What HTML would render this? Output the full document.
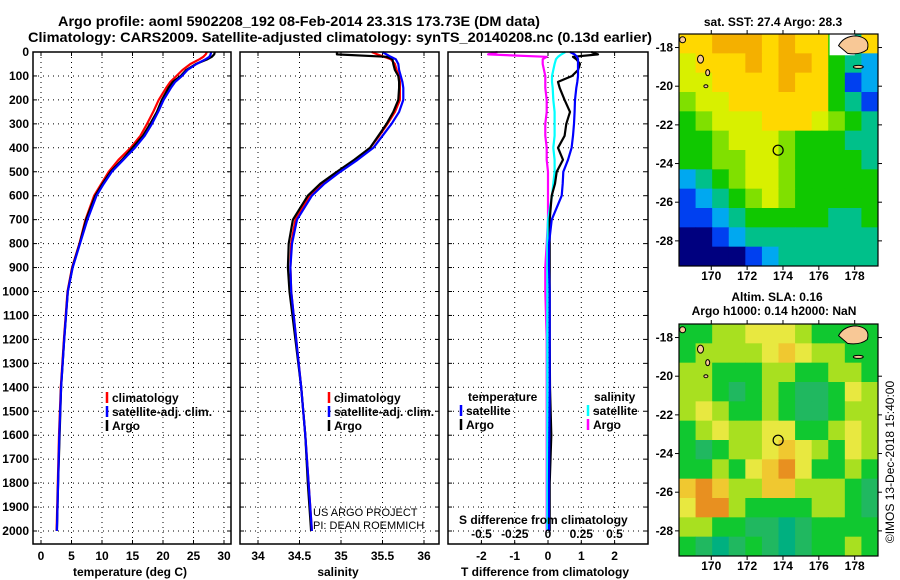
<!DOCTYPE html>
<html><head><meta charset="utf-8"><style>
html,body{margin:0;padding:0;background:#fff;}
svg{display:block;font-family:"Liberation Sans",Arial,sans-serif;}
.b{font-weight:bold;font-size:12px;}
</style></head><body>
<svg id="fig" width="900" height="580" viewBox="0 0 900 580" xmlns="http://www.w3.org/2000/svg">
<rect width="900" height="580" fill="#fff"/>
<text x="58" y="26" class="b" style="font-size:14px" textLength="482" lengthAdjust="spacingAndGlyphs">Argo profile: aoml 5902208_192 08-Feb-2014 23.31S 173.73E (DM data)</text>
<text x="28" y="42" class="b" style="font-size:14px" textLength="624" lengthAdjust="spacingAndGlyphs">Climatology: CARS2009. Satellite-adjusted climatology: synTS_20140208.nc (0.13d earlier)</text>
<g id="plots"></g>
</svg>
<script>
const depths = [0,10,20,30,50,75,100,125,150,200,250,300,350,400,450,500,550,600,700,800,900,1000,1200,1400,1600,1800,2000];
const tempClim = [27.2,27.0,26.6,26.0,24.5,23.2,22.2,21.2,20.5,19.3,18.4,17.4,16.3,14.7,12.7,11.1,9.9,8.7,7.3,6.3,5.1,4.35,3.75,3.25,2.95,2.75,2.55];
const tempSat = [27.9,27.8,27.6,27.0,25.5,24.0,23.1,22.0,21.3,20.1,19.2,18.2,17.0,15.4,13.5,11.6,10.3,9.1,7.6,6.4,5.2,4.4,3.8,3.3,3.0,2.8,2.6];
const tempArgo = [28.5,28.4,28.0,27.3,25.4,23.8,22.9,21.6,20.9,19.8,19.0,17.9,16.7,15.0,13.3,11.4,10.1,8.9,7.4,6.35,5.15,4.4,3.8,3.3,3.05,2.8,2.6];
const salClim = [35.37,35.44,35.52,35.6,35.65,35.67,35.7,35.71,35.71,35.71,35.65,35.56,35.46,35.35,35.17,34.96,34.77,34.62,34.45,34.40,34.39,34.4,34.46,34.52,34.57,34.61,34.65];
const salSat = [35.5,35.55,35.6,35.66,35.69,35.7,35.72,35.74,35.75,35.75,35.7,35.61,35.5,35.39,35.2,34.99,34.8,34.65,34.47,34.41,34.39,34.4,34.46,34.52,34.57,34.61,34.65];
const salArgo = [34.95,34.95,35.55,35.62,35.63,35.65,35.69,35.7,35.7,35.69,35.63,35.55,35.45,35.35,35.16,34.95,34.75,34.6,34.42,34.37,34.36,34.38,34.45,34.52,34.57,34.6,34.64];
const tDiffSat = [0.66,0.8,0.87,0.9,0.9,0.9,0.9,0.88,0.85,0.81,0.8,0.78,0.75,0.71,0.6,0.46,0.44,0.41,0.11,0.03,0.03,0.05,0.05,0.05,0.04,0.03,0.03];
const tDiffArgo = [1.3,1.5,0.75,0.85,0.96,0.9,0.72,0.3,0.35,0.5,0.66,0.55,0.5,0.3,0.45,0.26,0.21,0.11,0.05,0.05,0.05,0.05,0.05,0.06,0.1,0.05,0.05];
const sDiffSat = [0.13,0.1,0.075,0.06,0.05,0.04,0.03,0.03,0.035,0.04,0.05,0.05,0.05,0.04,0.05,0.05,0.04,0.03,0.0,-0.005,-0.005,-0.005,-0.005,-0.005,-0.005,-0.005,-0.005];
const sDiffArgo = [-0.38,-0.45,-0.01,-0.04,-0.04,-0.03,-0.02,-0.02,-0.02,-0.01,-0.01,-0.02,-0.02,-0.01,-0.01,0,0,0,0,-0.01,-0.02,-0.02,-0.01,-0.01,-0.01,-0.01,-0.01];
const depthTicks = [0,100,200,300,400,500,600,700,800,900,1000,1100,1200,1300,1400,1500,1600,1700,1800,1900,2000];
const tempTicks = [0,5,10,15,20,25,30];
const salTicks = [34,34.5,35,35.5,36];
const tDiffTicks = [-2,-1,0,1,2];
const sDiffTicks = [-0.5,-0.25,0,0.25,0.5];
const sstGrid = [
"778887877437","677787887432","667777877412","566777777431","456667776543","445666544433",
"445566544443","234566544444","123456544444","112344444334","001233333333","000012333333"];
const slaGrid = [
"445566654444","455556765544","554445544554","554345433465","565445433455","456556644565",
"434556765465","445467864454","787557755543","688544445543","554433234444","432343234454"];
const sstColors = ["#00007f","#0040f0","#00a8f0","#00c08a","#10c800","#80e000","#d8f000","#ffd800","#f4b000","#d06010"];
const slaColors = ["#00d8c0","#10c8a0","#00b080","#20b860","#10c830","#a8e020","#e8e840","#f0c830","#e89020"];
const mapLon = [168.2,179.3];
const mapLat = [-17.3,-29.3];
const lonTicks = [170,172,174,176,178];
const latTicks = [-18,-20,-22,-24,-26,-28];
const argoPos = [173.73,-23.31];

const NS="http://www.w3.org/2000/svg";
const root=document.getElementById('plots');
function mk(tag,at,parent){const e=document.createElementNS(NS,tag);for(const k in at)e.setAttribute(k,at[k]);(parent||root).appendChild(e);return e;}
function txt(s,x,y,anchor,parent,extra){const e=mk('text',Object.assign({x:x,y:y,'text-anchor':anchor||'start','class':'b'},extra||{}),parent);e.textContent=s;return e;}
const Y=d=>52+d*0.2395;
const yTop=52,yBot=544;
function panel(name,x0,x1,xs,ticks,fmt,yLabels){
  const g=mk('g',{});
  
  
  depthTicks.forEach(d=>{ if(d>0){const l=mk('line',{x1:x0,x2:x1,y1:Y(d),y2:Y(d),stroke:'#000','stroke-width':1,'stroke-dasharray':'1,4'},g);}
    mk('line',{x1:x0,x2:x0+4,y1:Y(d),y2:Y(d),stroke:'#000'},g);mk('line',{x1:x1-4,x2:x1,y1:Y(d),y2:Y(d),stroke:'#000'},g);
    if(yLabels){const t=txt(String(d),29,Y(d)+4,'end',g);}});
  ticks.forEach(v=>{const x=xs(v);
    const l=mk('line',{x1:x,x2:x,y1:yTop,y2:yBot,stroke:'#000','stroke-width':1,'stroke-dasharray':'1,4'},g);
    
    mk('line',{x1:x,x2:x,y1:yBot-4,y2:yBot,stroke:'#000'},g);mk('line',{x1:x,x2:x,y1:yTop,y2:yTop+4,stroke:'#000'},g);
    const t=txt(fmt(v),x,560,'middle',g);});
  return g;
}
function frame(g,x0,x1){const r=mk('rect',{x:x0,y:yTop,width:x1-x0,height:yBot-yTop,fill:'none',stroke:'#000','stroke-width':1.5},g);}
function series(g,name,vals,xs,color){
  const p=mk('polyline',{points:vals.map((v,i)=>xs(v).toFixed(1)+','+Y(depths[i]).toFixed(1)).join(' '),fill:'none',stroke:color,'stroke-width':2.2,'stroke-linejoin':'round'},g);
  
  
}
function legendEntry(g,name,x,y,color,label){
  const e=mk('g',{},g);
  
  
  mk('line',{x1:x,x2:x,y1:y-10,y2:y+1,stroke:color,'stroke-width':2.5},e);
  txt(label,x+5,y,'start',e);
}
const xT=v=>41+6.1*v;
const g1=panel('temperature-panel',33,231,xT,tempTicks,String,true);
series(g1,'temp-climatology-line',tempClim,xT,'#f00');
series(g1,'temp-argo-line',tempArgo,xT,'#000');
series(g1,'temp-satellite-line',tempSat,xT,'#00f');
frame(g1,33,231);
legendEntry(g1,'legend-climatology',107,402,'#f00','climatology');
legendEntry(g1,'legend-satellite-adj',107,416,'#00f','satellite-adj. clim.');
legendEntry(g1,'legend-argo',107,430,'#000','Argo');
let t=txt('temperature (deg C)',130,576,'middle',g1);
const xS=v=>258+83*(v-34);
const g2=panel('salinity-panel',240,439,xS,salTicks,v=>String(v),false);
series(g2,'sal-climatology-line',salClim,xS,'#f00');
series(g2,'sal-argo-line',salArgo,xS,'#000');
series(g2,'sal-satellite-line',salSat,xS,'#00f');
frame(g2,240,439);
legendEntry(g2,'legend-climatology',329,402,'#f00','climatology');
legendEntry(g2,'legend-satellite-adj',329,416,'#00f','satellite-adj. clim.');
legendEntry(g2,'legend-argo',329,430,'#000','Argo');
t=txt('US ARGO PROJECT',313,516,'start',g2,{'class':'',"font-size":"11"});
t=txt('PI: DEAN ROEMMICH',313,529,'start',g2,{'class':'',"font-size":"11"});
t=txt('salinity',338,576,'middle',g2);
const xD=v=>548+33.3*v;
const xSD=v=>548+133*v;
const g3=panel('difference-panel',448,648,xD,tDiffTicks,String,false);
series(g3,'sdiff-argo-line',sDiffArgo,xSD,'#f0f');
series(g3,'sdiff-satellite-line',sDiffSat,xSD,'#0ff');
series(g3,'tdiff-argo-line',tDiffArgo,xD,'#000');
series(g3,'tdiff-satellite-line',tDiffSat,xD,'#00f');
frame(g3,448,648);
t=txt('temperature',468,401,'start',g3);
legendEntry(g3,'legend-t-satellite',461,415,'#00f','satellite');
legendEntry(g3,'legend-t-argo',461,429,'#000','Argo');
t=txt('salinity',594,401,'start',g3);
legendEntry(g3,'legend-s-satellite',588,415,'#0ff','satellite');
legendEntry(g3,'legend-s-argo',588,429,'#f0f','Argo');
t=txt('S difference from climatology',459,524,'start',g3);
sDiffTicks.forEach(v=>{const e=txt(String(v),xSD(v),538,'middle',g3);});
t=txt('T difference from climatology',545,576,'middle',g3);
function drawMap(name,top,grid,colors,whiteCells){
  const g=mk('g',{});
  
  
  const x0=679,x1=878,y0=top,y1=top+232;
  const lx=v=>x0+(v-mapLon[0])/(mapLon[1]-mapLon[0])*(x1-x0);
  const ly=v=>y0+(v-mapLat[0])/(mapLat[1]-mapLat[0])*(y1-y0);
  const rows=grid.length,cols=grid[0].length,cw=(x1-x0)/cols,ch=(y1-y0)/rows;
  grid.forEach((row,r)=>{for(let c=0;c<cols;c++){
    const cell=mk('rect',{x:x0+c*cw,y:y0+r*ch,width:cw+0.5,height:ch+0.5,fill:colors[+row[c]]},g);
    
    }});
  if(whiteCells){mk('rect',{x:lx(176.6),y:ly(-17.3),width:lx(178)-lx(176.6),height:ly(-18.4)-ly(-17.3),fill:'#fff'},g);}
  const isl=mk('path',{d:`M${lx(177.1)},${ly(-17.9)} Q${lx(177.4)},${ly(-17.4)} ${lx(178.1)},${ly(-17.4)} Q${lx(178.9)},${ly(-17.5)} ${lx(178.7)},${ly(-18.1)} Q${lx(178.3)},${ly(-18.4)} ${lx(177.6)},${ly(-18.3)} Z`,fill:'#f8c896',stroke:'#000','stroke-width':1},g);
  
  [[168.4,-17.6,3,3],[169.4,-18.6,3,4],[169.8,-19.3,2,3],[169.7,-20.0,2,1.5],[178.2,-19.0,5,1.5]].forEach(a=>{
    const e=mk('ellipse',{cx:lx(a[0]),cy:ly(a[1]),rx:a[2],ry:a[3],fill:'#f8c896',stroke:'#000','stroke-width':1},g);
    });
  const c=mk('circle',{cx:lx(argoPos[0]),cy:ly(argoPos[1]),r:5,fill:'none',stroke:'#000','stroke-width':1.2},g);
  
  mk('rect',{x:x0,y:y0,width:x1-x0,height:y1-y0,fill:'none',stroke:'#000','stroke-width':1.2},g);
  lonTicks.forEach(v=>{mk('line',{x1:lx(v),x2:lx(v),y1:y1,y2:y1+4,stroke:'#000'},g);mk('line',{x1:lx(v),x2:lx(v),y1:y0,y2:y0-4,stroke:'#000'},g);
    const e=txt(String(v),lx(v),y1+14,'middle',g);});
  latTicks.forEach(v=>{mk('line',{x1:x1,x2:x1+4,y1:ly(v),y2:ly(v),stroke:'#000'},g);mk('line',{x1:x0-4,x2:x0,y1:ly(v),y2:ly(v),stroke:'#000'},g);
    const e=txt(String(v),673,ly(v)+4,'end',g);});
  return g;
}
const m1=drawMap('sst-map',34,sstGrid,sstColors,true);
t=txt('sat. SST: 27.4 Argo: 28.3',773,26,'middle',m1);
const m2=drawMap('sla-map',324,slaGrid,slaColors,false);
t=txt('Altim. SLA: 0.16',777,301,'middle',m2);
t=txt('Argo h1000: 0.14 h2000: NaN',774,315,'middle',m2);
t=txt('©IMOS 13-Dec-2018 15:40:00',0,0,'middle',m2,{'class':'','font-size':'12',transform:'translate(894,462) rotate(-90)'});

</script>
</body></html>
